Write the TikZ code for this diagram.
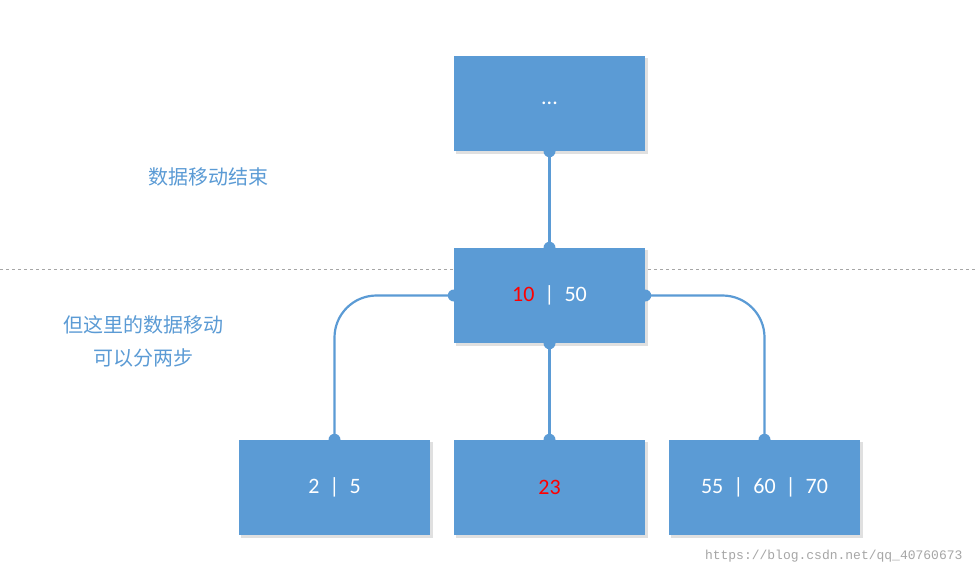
\documentclass[tikz,border=0pt]{standalone}
\usepackage{fontspec}
\setmainfont{Carlito}
\newfontfamily\cjk{Noto Sans CJK SC}
\newfontfamily\wm{Liberation Mono}
\definecolor{bx}{HTML}{5B9BD5}
\definecolor{tx}{HTML}{5B9BD5}
\begin{document}
\begin{tikzpicture}[x=1pt,y=-1pt,
  bnode/.style={draw=none,fill=bx,minimum width=191pt,minimum height=95pt,text=white,font=\fontsize{22}{24}\selectfont},
  conn/.style={draw=bx,line width=2.2pt},
  dot/.style={fill=bx,circle,inner sep=0pt,minimum size=12pt}]
\useasboundingbox (0,0) rectangle (976,576);
\fill[white] (0,0) rectangle (976,576);
\draw[gray!70,dashed,line width=0.8pt] (0,269) -- (976,269);
\foreach \n/\x/\y in {t/549.5/103.5,m/549.5/295.5,l/334.5/487.5,c/549.5/487.5,r/764.5/487.5}
  \fill[black!12] (\x-93.5,\y-45.5) rectangle (\x+98.5,\y+50.5);
\node[bnode] (t) at (549.5,103.5) {...};
\node[bnode] (m) at (549.5,295.5) {\textcolor{red}{10}\ \ |\ \ 50};
\node[bnode] (l) at (334.5,487.5) {2\ \ |\ \ 5};
\node[bnode] (c) at (549.5,487.5) {\textcolor{red}{23}};
\node[bnode] (r) at (764.5,487.5) {55\ \ |\ \ 60\ \ |\ \ 70};
\draw[conn] (t.south) -- (m.north);
\draw[conn] (m.south) -- (c.north);
\draw[conn,rounded corners=42pt] (m.west) -| (l.north);
\draw[conn,rounded corners=42pt] (m.east) -| (r.north);
\foreach \p in {t.south,m.north,m.south,m.west,m.east,l.north,c.north,r.north}
  \node[dot] at (\p) {};
\node[text=tx,font=\cjk\fontsize{20}{24}\selectfont] (a) at (208,177) {数据移动结束};
\node[text=tx,font=\cjk\fontsize{20}{33}\selectfont,align=center] (b) at (143,341) {但这里的数据移动\\可以分两步};
\node[text=black!35,font=\wm\fontsize{13}{14}\selectfont,anchor=east] (w) at (966,556) {https://blog.csdn.net/qq\_40760673};
\end{tikzpicture}
\end{document}
